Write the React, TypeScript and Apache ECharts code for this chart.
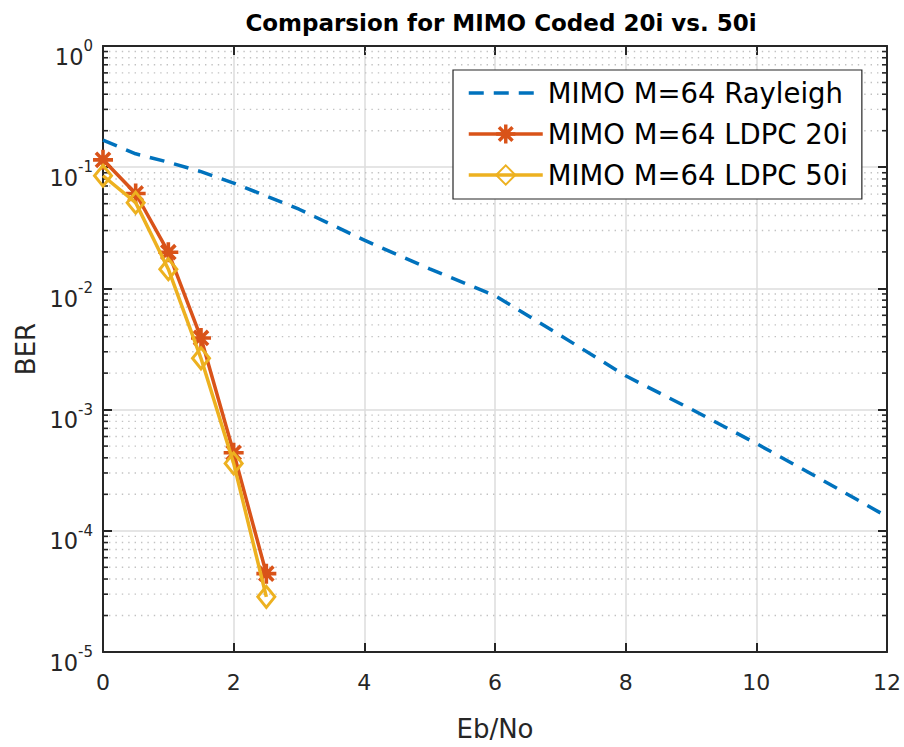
import React, { useEffect, useRef } from "react";
import * as echarts from "echarts";

const xRayleigh = [0, 0.5, 1, 1.5, 2, 3, 4, 5, 6, 7, 8, 9, 10, 11, 12];
const berRayleigh = [0.167, 0.129, 0.11, 0.092, 0.074, 0.045, 0.025, 0.0145, 0.0087, 0.0041, 0.0019, 0.00101, 0.000525, 0.000264, 0.000131];
const xLdpc = [0, 0.5, 1, 1.5, 2, 2.5];
const ber20i = [0.115, 0.0607, 0.0199, 0.0039, 0.00044, 0.0000443];
const ber50i = [0.085, 0.051, 0.0144, 0.00265, 0.00036, 0.0000285];
const seriesNames = ["MIMO M=64 Rayleigh", "MIMO M=64 LDPC 20i", "MIMO M=64 LDPC 50i"];
const decades = [-5, -4, -3, -2, -1];
const minorMultipliers = [2, 3, 4, 5, 6, 7, 8, 9];

function asteriskPath(): string {
  const t = 1.8;
  const c = 10;
  const d = 7.07;
  const k = t * 0.7071;
  const rect = (pts: number[][]) =>
    "M" + pts.map((p) => p[0].toFixed(3) + " " + p[1].toFixed(3)).join(" L") + " Z";
  const h = rect([[0, c - t], [20, c - t], [20, c + t], [0, c + t]]);
  const v = rect([[c - t, 0], [c + t, 0], [c + t, 20], [c - t, 20]]);
  const d1 = rect([
    [c - d + k, c - d - k],
    [c + d + k, c + d - k],
    [c + d - k, c + d + k],
    [c - d - k, c - d + k],
  ]);
  const d2 = rect([
    [c + d - k, c - d - k],
    [c + d + k, c - d + k],
    [c - d + k, c + d + k],
    [c - d - k, c + d - k],
  ]);
  return "path://" + h + " " + v + " " + d1 + " " + d2;
}

export default function App() {
  const ref = useRef<HTMLDivElement>(null);
  useEffect(() => {
    document.body.style.margin = "0";
    if (!ref.current) return;
    const chart = echarts.init(ref.current, undefined, { renderer: "svg" });
    const font = "DejaVu Sans";
    const axisColor = "#262626";
    const minorVals: number[][] = [];
    decades.forEach((n) => minorMultipliers.forEach((m) => minorVals.push([0, m * Math.pow(10, n)])));

    const option: any = {
      animation: false,
      backgroundColor: "#ffffff",
      title: {
        text: "Comparsion for MIMO Coded 20i vs. 50i",
        left: 496,
        textAlign: "center",
        top: 6,
        textStyle: { fontFamily: font, fontWeight: "bold", fontSize: 23, color: "#000" },
      },
      legend: {
        data: [
          { name: seriesNames[0], itemStyle: { color: "rgba(0,0,0,0)", borderWidth: 0, opacity: 0 } },
          { name: seriesNames[1] },
          { name: seriesNames[2] },
        ],
        orient: "vertical",
        left: 453,
        top: 70,
        padding: [9, 14, 10, 14],
        itemGap: 13,
        itemWidth: 74,
        itemHeight: 24,
        backgroundColor: "#ffffff",
        borderColor: "#262626",
        borderWidth: 1.2,
        lineStyle: { width: 3.5 },
        textStyle: { fontFamily: font, fontSize: 27.5, color: "#000" },
      },
      grid: { left: 103, right: 15, top: 46, bottom: 80, containLabel: false },
      xAxis: [
        {
          type: "value",
          min: 0,
          max: 12,
          interval: 2,
          name: "Eb/No",
          nameLocation: "middle",
          nameGap: 64,
          nameTextStyle: { fontFamily: font, fontSize: 26, color: axisColor },
          axisLine: { show: true, onZero: false, lineStyle: { color: axisColor, width: 2 } },
          axisTick: { show: true, inside: true, length: 9, lineStyle: { color: axisColor, width: 2 } },
          axisLabel: { fontFamily: font, fontSize: 22, color: axisColor, margin: 19 },
          splitLine: { show: true, lineStyle: { color: "#dcdcdc", width: 1.5 } },
        },
        {
          type: "value",
          position: "top",
          min: 0,
          max: 12,
          interval: 2,
          axisLine: { show: true, onZero: false, lineStyle: { color: axisColor, width: 2 } },
          axisTick: { show: true, inside: true, length: 9, lineStyle: { color: axisColor, width: 2 } },
          axisLabel: { show: false },
          splitLine: { show: false },
        },
      ],
      yAxis: [
        {
          type: "log",
          logBase: 10,
          min: 1e-5,
          max: 1,
          name: "BER",
          nameLocation: "middle",
          nameGap: 61,
          nameTextStyle: { fontFamily: font, fontSize: 26, color: axisColor },
          axisLine: { show: true, onZero: false, lineStyle: { color: axisColor, width: 2 } },
          axisTick: { show: true, inside: true, length: 9, lineStyle: { color: axisColor, width: 2 } },
          axisLabel: {
            margin: 10,
            formatter: (v: number) => "{b|10}{s|" + Math.round(Math.log10(v)) + "}",
            rich: {
              b: { fontFamily: font, fontSize: 22.5, color: axisColor, lineHeight: 44, verticalAlign: "bottom" },
              s: { fontFamily: font, fontSize: 15, color: axisColor, lineHeight: 16, verticalAlign: "middle" },
            },
          },
          splitLine: { show: true, lineStyle: { color: "#dcdcdc", width: 1.5 } },
        },
        {
          type: "log",
          logBase: 10,
          min: 1e-5,
          max: 1,
          position: "right",
          axisLine: { show: true, onZero: false, lineStyle: { color: axisColor, width: 2 } },
          axisTick: { show: true, inside: true, length: 9, lineStyle: { color: axisColor, width: 2 } },
          axisLabel: { show: false },
          splitLine: { show: false },
        },
      ],
      series: [
        {
          type: "custom",
          name: "minorGrid",
          silent: true,
          z: 1,
          xAxisIndex: 0,
          yAxisIndex: 0,
          encode: { x: 0, y: 1 },
          data: minorVals,
          renderItem: (params: any, api: any) => {
            const v = api.value(1);
            const pt = api.coord([0, v]);
            const cs = params.coordSys;
            const y = pt[1];
            return {
              type: "group",
              children: [
                {
                  type: "line",
                  shape: { x1: cs.x + 6, y1: y, x2: cs.x + cs.width - 6, y2: y },
                  style: { stroke: "#c2c2c2", lineWidth: 1.4, lineDash: [1.4, 5] },
                },
                {
                  type: "line",
                  shape: { x1: cs.x, y1: y, x2: cs.x + 5, y2: y },
                  style: { stroke: axisColor, lineWidth: 1.6 },
                },
                {
                  type: "line",
                  shape: { x1: cs.x + cs.width - 5, y1: y, x2: cs.x + cs.width, y2: y },
                  style: { stroke: axisColor, lineWidth: 1.6 },
                },
              ],
            };
          },
        },
        {
          type: "line",
          name: seriesNames[0],
          z: 3,
          data: xRayleigh.map((x, i) => [x, berRayleigh[i]]),
          symbol: "none",
          color: "#0072BD",
          lineStyle: { color: "#0072BD", width: 3.5, type: [15, 10] },
        },
        {
          type: "line",
          name: seriesNames[1],
          z: 4,
          data: xLdpc.map((x, i) => [x, ber20i[i]]),
          symbol: asteriskPath(),
          symbolSize: 20,
          color: "#D95319",
          itemStyle: { color: "#D95319" },
          lineStyle: { color: "#D95319", width: 3.5 },
        },
        {
          type: "line",
          name: seriesNames[2],
          z: 5,
          data: xLdpc.map((x, i) => [x, ber50i[i]]),
          symbol: "diamond",
          symbolSize: [17, 21],
          color: "#EDB120",
          itemStyle: { color: "rgba(0,0,0,0)", borderColor: "#EDB120", borderWidth: 3 },
          lineStyle: { color: "#EDB120", width: 3.5 },
        },
      ],
    };
    chart.setOption(option);
    return () => chart.dispose();
  }, []);
  return <div ref={ref} style={{ width: 904, height: 747 }} />;
}
